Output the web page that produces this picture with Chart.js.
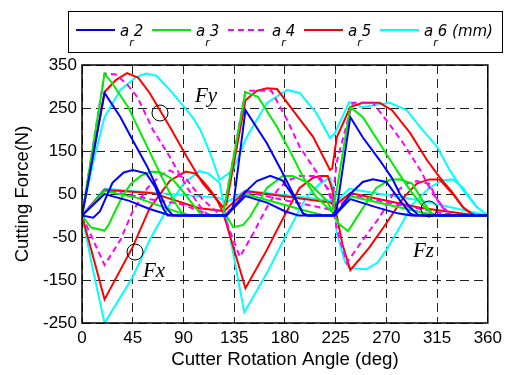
<!DOCTYPE html>
<html>
<head>
<meta charset="utf-8">
<script src="https://cdn.jsdelivr.net/npm/chart.js@4.4.1/dist/chart.umd.min.js"></script>
<style>
  html, body { margin: 0; padding: 0; background: #fff; }
  #wrap { width: 507px; height: 375px; position: relative; }
</style>
</head>
<body>
<div id="wrap"><canvas id="forceChart"></canvas></div>
<script>
// angle ticks (deg) and force ticks (N)
const angleTicks = [0, 45, 90, 135, 180, 225, 270, 315, 360];
const forceTicks = [-250, -150, -50, 50, 150, 250, 350];

const seriesNames = ['2', '3', '4', '5', '6 (mm)'];

// [angle, force]
const fyAr2 = [[0,0],[20,285],[34,229],[45,175],[58,113],[69,50],[75,17],[80,2],[85,0],[128,0],[134,20],[145,245],[164,168],[178,99],[190,36],[196,5],[200,0],[222,0],[226,15],[238,229],[249,182],[264,129],[275,87],[282,50],[291,19],[298,2],[302,0],[360,0]];
const fxAr2 = [[0,0],[10,-5],[16,10],[27,76],[37,100],[45,106],[57,98],[65,66],[72,16],[76,0],[128,0],[135,20],[145,55],[155,80],[167,92],[178,81],[190,35],[196,5],[200,0],[224,0],[230,20],[238,50],[249,78],[258,84],[270,78],[282,35],[291,5],[295,0],[360,0]];
const fzAr2 = [[0,0],[20,50],[42,34],[60,15],[75,3],[80,0],[128,0],[145,45],[164,30],[180,10],[192,0],[224,0],[238,38],[260,20],[280,5],[292,0],[360,0]];

const fyAr3 = [[0,0],[20,330],[27,307],[41,252],[58,159],[69,99],[81,36],[88,8],[95,0],[125,0],[145,287],[156,276],[173,206],[184,152],[196,90],[207,45],[217,20],[222,8],[226,60],[238,252],[249,229],[264,168],[279,106],[291,59],[300,29],[310,5],[315,0],[360,0]];
const fxAr3 = [[0,0],[8,-28],[20,-35],[24,-20],[28,3],[35,40],[43,73],[52,92],[62,102],[70,100],[80,85],[87,64],[98,27],[105,5],[110,0],[128,0],[134,-27],[143,-22],[149,-3],[164,64],[178,92],[187,92],[202,74],[217,35],[223,5],[228,-20],[236,-36],[240,-20],[249,17],[261,64],[273,83],[282,84],[293,74],[302,35],[310,5],[315,0],[360,0]];
const fzAr3 = [[0,0],[20,57],[49,41],[87,6],[95,0],[128,0],[145,50],[200,10],[215,0],[224,0],[238,45],[300,8],[315,0],[360,0]];

const fyAr4 = [[0,0],[20,330],[30,328],[40,305],[49,276],[63,199],[78,136],[93,66],[105,20],[112,0],[125,0],[145,290],[168,290],[182,222],[193,160],[205,113],[217,66],[222,30],[226,125],[240,262],[258,262],[270,222],[285,168],[300,106],[311,52],[320,20],[328,0],[360,0]];
const fxAr4 = [[0,0],[20,-115],[34,-57],[45,10],[58,64],[69,92],[78,105],[93,83],[107,37],[120,8],[126,0],[140,-96],[152,-41],[164,19],[173,58],[182,81],[193,92],[208,92],[220,57],[226,-30],[235,-110],[249,-57],[264,-4],[276,50],[288,74],[297,80],[308,74],[317,27],[325,5],[330,0],[360,0]];
const fzAr4 = [[0,0],[20,60],[60,38],[87,27],[105,10],[115,0],[127,0],[145,55],[190,30],[218,15],[224,10],[238,48],[300,15],[330,0],[360,0]];

const fyAr5 = [[0,0],[20,287],[30,315],[40,331],[50,320],[60,285],[78,206],[93,136],[107,75],[120,36],[125,20],[128,25],[145,268],[155,290],[164,296],[173,294],[187,245],[205,183],[220,106],[222,110],[226,182],[238,252],[249,262],[264,262],[275,245],[291,192],[306,129],[317,90],[329,52],[338,19],[345,5],[350,0],[360,0]];
const fxAr5 = [[0,0],[20,-195],[45,-73],[60,17],[78,81],[92,102],[100,98],[107,81],[115,55],[120,35],[125,8],[145,-169],[164,-80],[178,-8],[193,64],[205,88],[211,92],[218,92],[222,60],[226,0],[231,-67],[238,-127],[255,-74],[270,-18],[285,41],[297,74],[308,84],[317,84],[329,50],[338,19],[345,5],[350,0],[360,0]];
const fzAr5 = [[0,0],[20,60],[63,52],[104,17],[120,12],[126,10],[145,57],[220,30],[225,25],[238,52],[300,18],[350,0],[360,0]];

const fyAr6 = [[0,0],[10,125],[20,229],[34,292],[48,322],[57,330],[66,325],[78,292],[98,229],[105,199],[113,150],[122,83],[126,90],[134,106],[146,182],[164,262],[182,292],[193,285],[208,238],[220,180],[224,190],[237,264],[249,252],[262,258],[273,262],[288,245],[302,199],[315,160],[326,106],[338,59],[350,20],[360,0]];
const fxAr6 = [[0,0],[10,-130],[20,-250],[45,-143],[60,-57],[78,27],[90,74],[104,103],[112,98],[122,76],[124,50],[134,-87],[144,-225],[164,-134],[182,-41],[199,43],[211,74],[220,88],[223,60],[226,-41],[233,-106],[237,-122],[252,-125],[262,-110],[270,-80],[282,-27],[293,26],[308,64],[320,82],[329,84],[338,64],[350,20],[360,0]];
const fzAr6 = [[0,0],[20,62],[122,41],[128,30],[145,58],[220,35],[225,30],[237,62],[300,35],[360,0]];

const colors = ['#0000ff', '#00ee00', '#ff00ff', '#ff0000', '#00ffff'];
const dashes = [[], [], [6, 4], [], []];
const fyAll = [fyAr2, fyAr3, fyAr4, fyAr5, fyAr6];
const fxAll = [fxAr2, fxAr3, fxAr4, fxAr5, fxAr6];
const fzAll = [fzAr2, fzAr3, fzAr4, fzAr5, fzAr6];

const datasets = [];
seriesNames.forEach((name, i) => {
    [fzAll[i], fxAll[i], fyAll[i]].forEach((pts, k) => {
        datasets.push({
            label: 'a_r' + name + ['Fz', 'Fx', 'Fy'][k],
            data: pts.map(p => ({ x: p[0], y: p[1] })),
            borderColor: colors[i],
            borderWidth: 2,
            borderDash: dashes[i],
            pointRadius: 0,
            tension: 0,
            fill: false
        });
    });
});

// legend box, frame and the Fx / Fy / Fz marks
const decorations = {
    id: 'decorations',
    afterDraw(chart) {
        const ctx = chart.ctx;
        const a = chart.chartArea;
        ctx.save();

        ctx.strokeStyle = '#000';
        ctx.lineWidth = 1.5;
        ctx.setLineDash([]);
        ctx.strokeRect(a.left, a.top, a.right - a.left, a.bottom - a.top);

        // legend
        ctx.lineWidth = 1;
        ctx.strokeRect(68.5, 11.5, 434, 41);
        const lineStarts = [76, 152, 228, 304, 380];
        lineStarts.forEach((x0, i) => {
            ctx.strokeStyle = colors[i];
            ctx.lineWidth = 2;
            ctx.setLineDash(dashes[i]);
            ctx.beginPath();
            ctx.moveTo(x0, 30);
            ctx.lineTo(x0 + 39, 30);
            ctx.stroke();
            ctx.setLineDash([]);
            ctx.fillStyle = '#000';
            ctx.textBaseline = 'alphabetic';
            ctx.textAlign = 'left';
            ctx.font = 'italic 15px "DejaVu Sans"';
            let tx = x0 + 44;
            ctx.fillText('a', tx, 36);
            tx += ctx.measureText('a').width;
            ctx.font = 'italic 11px "DejaVu Sans"';
            ctx.fillText('r', tx, 46);
            tx += ctx.measureText('r').width;
            ctx.font = 'italic 15px "DejaVu Sans"';
            ctx.fillText(seriesNames[i], tx, 36);
        });

        // annotations
        ctx.fillStyle = '#000';
        ctx.font = 'italic 21px "Liberation Serif"';
        ctx.fillText('Fy', 195, 102);
        ctx.fillText('Fx', 143, 277);
        ctx.fillText('Fz', 413, 257);
        ctx.strokeStyle = '#000';
        ctx.lineWidth = 1;
        [[160, 113], [135, 252], [429, 209]].forEach(c => {
            ctx.beginPath();
            ctx.arc(c[0], c[1], 8, 0, Math.PI * 2);
            ctx.stroke();
        });
        ctx.restore();
    }
};

new Chart(document.getElementById('forceChart'), {
    type: 'scatter',
    data: { datasets: datasets },
    plugins: [decorations],
    options: {
        responsive: true,
        maintainAspectRatio: false,
        animation: false,
        showLine: true,
        layout: { padding: { top: 65, right: 18, left: 0, bottom: 0 } },
        plugins: {
            legend: { display: false },
            tooltip: { enabled: false }
        },
        scales: {
            x: {
                type: 'linear',
                min: 0,
                max: 360,
                afterBuildTicks: s => { s.ticks = angleTicks.map(v => ({ value: v })); },
                afterFit: s => { s.height = 52; },
                grid: { color: '#222', lineWidth: 1, drawTicks: false },
                border: { display: false, dash: [9, 5] },
                ticks: { color: '#000', padding: 5, maxRotation: 0, font: { family: '"Liberation Sans", Arial', size: 17 } },
                title: {
                    display: true,
                    text: 'Cutter Rotation Angle (deg)',
                    color: '#000',
                    padding: { top: 0, bottom: 4 },
                    font: { family: '"Liberation Sans", Arial', size: 18.7 }
                }
            },
            y: {
                type: 'linear',
                min: -250,
                max: 350,
                afterBuildTicks: s => { s.ticks = forceTicks.map(v => ({ value: v })); },
                afterFit: s => { s.width = 82; },
                grid: { color: '#222', lineWidth: 1, drawTicks: false },
                border: { display: false, dash: [9, 5] },
                ticks: { color: '#000', padding: 5, font: { family: '"Liberation Sans", Arial', size: 17 } },
                title: {
                    display: true,
                    text: 'Cutting Force(N)',
                    color: '#000',
                    padding: { top: 12, bottom: 0 },
                    font: { family: '"Liberation Sans", Arial', size: 18.5 }
                }
            }
        }
    }
});
</script>
</body>
</html>
